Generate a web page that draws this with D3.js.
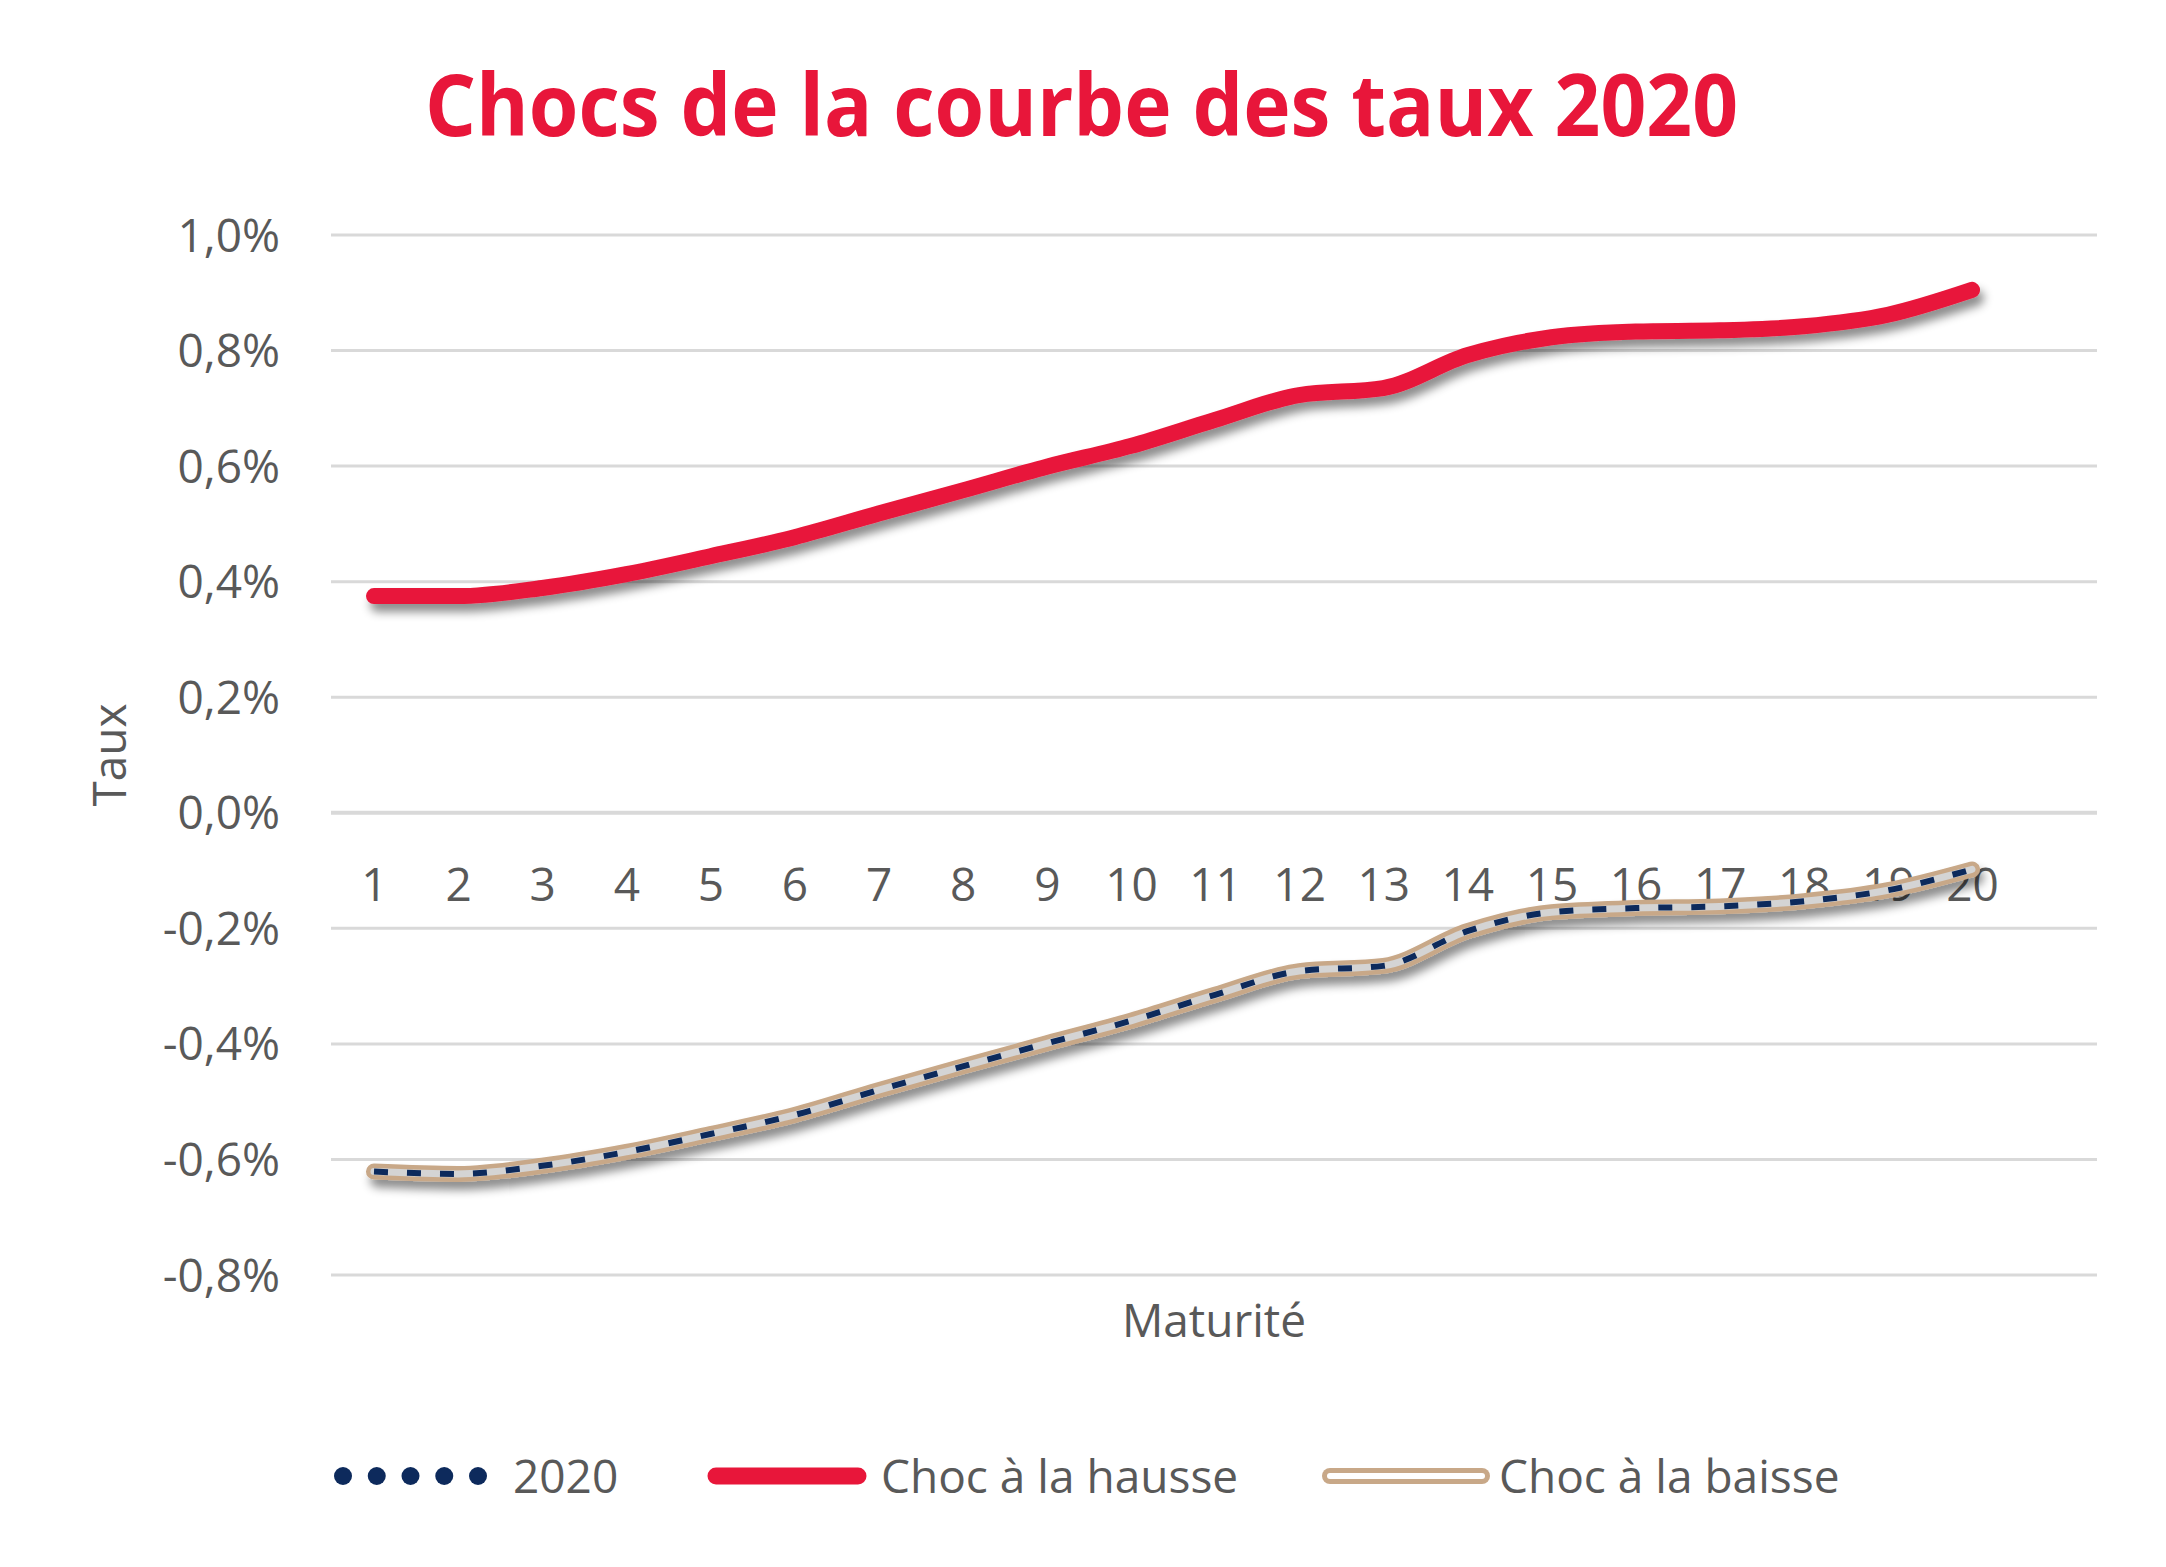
<!DOCTYPE html>
<html>
<head>
<meta charset="utf-8">
<script src="https://cdn.jsdelivr.net/npm/d3@7"></script>
<style>
  html, body { margin: 0; padding: 0; background: #ffffff; }
  svg { display: block; font-family: "Open Sans", "Noto Sans", sans-serif; }
</style>
</head>
<body>
<script>
// ---- Data ----
const maturities = [1,2,3,4,5,6,7,8,9,10,11,12,13,14,15,16,17,18,19,20];
const chocHausse = [0.375,0.375,0.389,0.413,0.444,0.477,0.518,0.558,0.599,0.635,0.680,0.723,0.735,0.792,0.823,0.833,0.835,0.842,0.862,0.905];
const chocBaisse = [-0.621,-0.625,-0.611,-0.587,-0.556,-0.523,-0.480,-0.439,-0.399,-0.360,-0.315,-0.274,-0.265,-0.205,-0.172,-0.165,-0.162,-0.153,-0.134,-0.098];
const courbe2020 = [-0.621,-0.625,-0.611,-0.587,-0.556,-0.523,-0.480,-0.439,-0.399,-0.360,-0.315,-0.274,-0.265,-0.205,-0.172,-0.165,-0.162,-0.153,-0.134,-0.098];
const yTicks = [-0.8,-0.6,-0.4,-0.2,0,0.2,0.4,0.6,0.8,1.0];
const titleText = "Chocs de la courbe des taux 2020";
const legendLabels = ["2020", "Choc à la hausse", "Choc à la baisse"];

// ---- Layout ----
const W = 2166, H = 1567;
const gridLeft = 331, gridRight = 2097;
const RED = "#E8163A", NAVY = "#0D2A5C", TAN = "#C8A888", GREY = "#595959";

const svg = d3.select("body").append("svg").attr("width", W).attr("height", H);

const defs = svg.append("defs");
const f = defs.append("filter").attr("id", "shadow")
  .attr("x", "-10%").attr("y", "-20%").attr("width", "130%").attr("height", "160%");
f.append("feDropShadow").attr("dx", 4).attr("dy", 8).attr("stdDeviation", 5)
  .attr("flood-color", "#000").attr("flood-opacity", 0.45);

const x = d3.scalePoint().domain(maturities).range([374, 1972]);
const y = d3.scaleLinear().domain([-0.8, 1.0]).range([1275, 235]);

// Title
svg.append("text")
  .attr("x", 425).attr("y", 136)
  .attr("textLength", 1313).attr("lengthAdjust", "spacingAndGlyphs")
  .attr("font-size", 86).attr("font-weight", 700).attr("fill", RED)
  .text(titleText);

// Gridlines
svg.append("g").selectAll("line").data(yTicks).join("line")
  .attr("x1", gridLeft).attr("x2", gridRight)
  .attr("y1", d => y(d)).attr("y2", d => y(d))
  .attr("stroke", "#D9D9D9").attr("stroke-width", d => d === 0 ? 4 : 3);

// Y axis
const fmt = d => d3.format(".1%")(d / 100).replace(".", ",").replace("−", "-");
const yAxis = d3.axisLeft(y).tickValues(yTicks).tickFormat(fmt).tickSize(0).tickPadding(0);
const gy = svg.append("g").attr("transform", "translate(280,0)").call(yAxis);
gy.select(".domain").remove();
gy.selectAll("text").attr("font-size", 46).attr("fill", GREY)
  .attr("font-family", "'Open Sans', sans-serif").attr("dy", "0.35em");

// X axis labels (placed just below zero line)
const xAxis = d3.axisBottom(x).tickSize(0).tickPadding(0);
const gx = svg.append("g").attr("transform", "translate(0,901)").call(xAxis);
gx.select(".domain").remove();
gx.selectAll("text").attr("font-size", 46).attr("fill", GREY)
  .attr("font-family", "'Open Sans', sans-serif").attr("dy", 0);

// Axis titles
svg.append("text")
  .attr("transform", "translate(126,755) rotate(-90)")
  .attr("text-anchor", "middle")
  .attr("font-size", 46).attr("fill", GREY).text("Taux");
svg.append("text")
  .attr("x", 1214).attr("y", 1337).attr("text-anchor", "middle")
  .attr("font-size", 46).attr("fill", GREY).text("Maturité");

// Lines
const line = d3.line().x((d, i) => x(maturities[i])).y(d => y(d)).curve(d3.curveMonotoneX);

svg.append("path").datum(chocHausse)
  .attr("d", line).attr("fill", "none")
  .attr("stroke", RED).attr("stroke-width", 16)
  .attr("stroke-linecap", "round").attr("stroke-linejoin", "round")
  .attr("filter", "url(#shadow)");

const gb = svg.append("g").attr("filter", "url(#shadow)");
gb.append("path").datum(chocBaisse)
  .attr("d", line).attr("fill", "none")
  .attr("stroke", TAN).attr("stroke-width", 16)
  .attr("stroke-linecap", "round").attr("stroke-linejoin", "round");
gb.append("path").datum(chocBaisse)
  .attr("d", line).attr("fill", "none")
  .attr("stroke", "#D4D4D4").attr("stroke-width", 7)
  .attr("stroke-linecap", "round").attr("stroke-linejoin", "round");

svg.append("path").datum(courbe2020)
  .attr("d", line).attr("fill", "none")
  .attr("stroke", NAVY).attr("stroke-width", 6)
  .attr("stroke-dasharray", "14,19")
  .attr("stroke-linejoin", "round");

// Legend
const ly = 1476, lb = 1493;
const lg = svg.append("g");
lg.selectAll("circle").data(d3.range(5)).join("circle")
  .attr("cx", d => 343 + d * 33.75).attr("cy", ly).attr("r", 9).attr("fill", NAVY);
lg.append("text").attr("x", 513).attr("y", lb).attr("font-size", 46).attr("fill", GREY).text(legendLabels[0]);

lg.append("line").attr("x1", 716).attr("x2", 858).attr("y1", ly).attr("y2", ly)
  .attr("stroke", RED).attr("stroke-width", 17).attr("stroke-linecap", "round");
lg.append("text").attr("x", 881).attr("y", lb).attr("font-size", 46).attr("fill", GREY).text(legendLabels[1]);

lg.append("line").attr("x1", 1330).attr("x2", 1482).attr("y1", ly).attr("y2", ly)
  .attr("stroke", TAN).attr("stroke-width", 16).attr("stroke-linecap", "round");
lg.append("line").attr("x1", 1330).attr("x2", 1482).attr("y1", ly).attr("y2", ly)
  .attr("stroke", "#FFFFFF").attr("stroke-width", 6).attr("stroke-linecap", "round");
lg.append("text").attr("x", 1499).attr("y", lb).attr("font-size", 46).attr("fill", GREY).text(legendLabels[2]);
</script>
</body>
</html>
